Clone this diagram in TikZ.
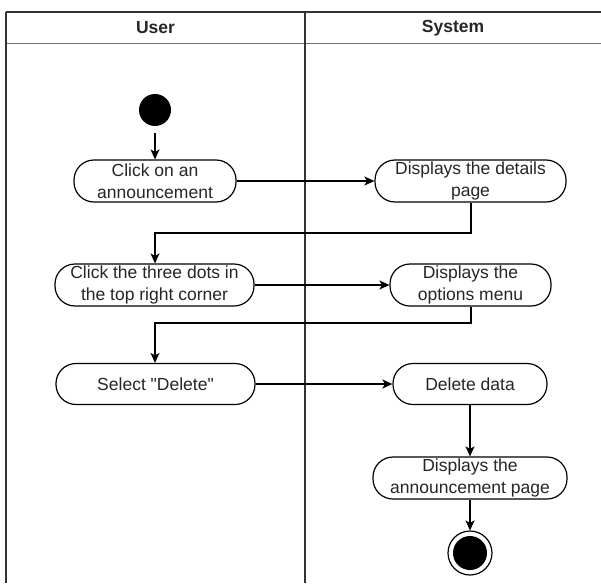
\documentclass[tikz,border=0pt]{standalone}
\usepackage{fontspec}
\setmainfont{Liberation Sans}[Ligatures=TeXOff]
\usetikzlibrary{arrows.meta}
\begin{document}
\begin{tikzpicture}[x=1pt,y=-1pt,
  every node/.style={font=\fontsize{17.5}{21.5}\selectfont, text=black!85},
  act/.style={draw, line width=1.2pt, rounded corners=20pt, align=center,
    minimum height=42pt, inner sep=0pt, fill=white},
  flow/.style={line width=1.3pt, -{Stealth[length=10pt,width=9pt,inset=2.5pt]}},
  lane/.style={line width=1.1pt, draw=black!80},
  hdr/.style={font=\fontsize{17.5}{20}\selectfont\bfseries}]
\useasboundingbox (0,0) rectangle (601,583);

% swimlane frame
\draw[lane, line width=1.5pt] (6,12) -- (601,12);
\draw[lane, draw=black!55, line width=1pt] (6,44) -- (601,44);
\draw[lane, line width=1.5pt] (6,12) -- (6,583);
\draw[lane] (305,12) -- (305,583);
\node[hdr] (hu) at (155.5,28) {User};
\node[hdr] (hs) at (453,28) {System};

% initial and final states
\node[circle, fill=black, minimum size=32pt, inner sep=0pt] (init) at (155,110) {};
\node[circle, draw, line width=1.2pt, minimum size=44pt, inner sep=0pt] (final) at (470,553) {};
\node[circle, fill=black, minimum size=34pt, inner sep=0pt] (finalin) at (470,553) {};

% actions
\node[act, minimum width=162pt] (a1) at (155,181) {Click on an\\announcement};
\node[act, minimum width=191pt] (s1) at (470.5,181) {Displays the details\\page};
\node[act, minimum width=199pt] (a2) at (154.5,285) {Click the three dots in\\the top right corner};
\node[act, minimum width=161pt] (s2) at (470.5,285) {Displays the\\options menu};
\node[act, minimum width=199pt, minimum height=41pt] (a3) at (155.5,384) {Select "Delete"};
\node[act, minimum width=154pt, minimum height=41pt] (s3) at (470,384) {Delete data};
\node[act, minimum width=194pt] (s4) at (470,478) {Displays the\\announcement page};

% control flow
\coordinate (b1) at (471,233);
\coordinate (c1) at (155,233);
\coordinate (b2) at (471,323);
\coordinate (c2) at (155,323);

\draw[flow, shorten <=7pt] (init) -- (a1);
\draw[flow] (a1) -- (s1);
\draw[flow] (s1.south -| b1) -- (b1) -- (c1) -- (c1 |- a2.north);
\draw[flow] (a2) -- (s2);
\draw[flow] (s2.south -| b2) -- (b2) -- (c2) -- (c2 |- a3.north);
\draw[flow] (a3) -- (s3);
\draw[flow] (s3) -- (s4);
\draw[flow] (s4) -- (final);
\end{tikzpicture}
\end{document}
